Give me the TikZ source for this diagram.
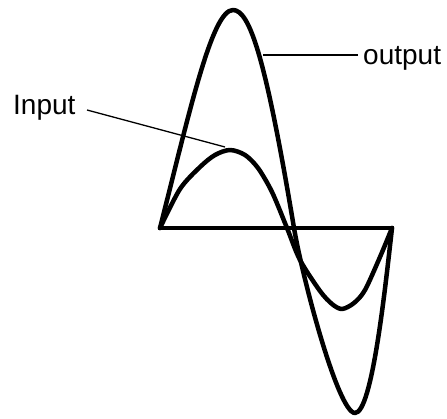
\documentclass[tikz,border=0pt]{standalone}
\usepackage{fontspec}
\setmainfont{Liberation Sans}
\usepackage{tikz}
\usetikzlibrary{positioning,calc}

\begin{document}
\begin{tikzpicture}[
  x=1pt,y=-1pt,
  wave/.style={line width=4.5pt,line join=round,line cap=round},
  axisline/.style={line width=4.5pt},
  leader/.style={line width=1.3pt},
  lbl/.style={inner sep=0pt,anchor=base west,font=\fontsize{28}{30}\selectfont}
]
\useasboundingbox (0,0) rectangle (447,419);
% axis
\coordinate (origin) at (158,228);
\coordinate (axend) at (394,228);
\draw[axisline] (origin) -- (axend);
% output wave (large)
\coordinate (outpeak) at (233,10);
\coordinate (outzero) at (294,228);
\coordinate (outtrough) at (355,413);
\draw[wave] (160,228) .. controls (190,110) and (212,10) .. (outpeak)
  .. controls (250,10) and (266,60) .. (outzero)
  .. controls (302,276) and (338,413) .. (outtrough)
  .. controls (372,413) and (385,290) .. (392,228);
% input wave (small)
\draw[wave] plot[smooth,tension=0.5] coordinates {
  (160,228) (180,189) (200,167) (215,155) (230,150) (245,155) (258,168)
  (272,192) (287,228) (300,260) (320,291) (332,304) (342,309) (354,303)
  (365,290) (380,257) (392,228)};
% labels
\node[lbl] (input) at (13,115) {Input};
\node[lbl] (output) at (363,65) {output};
\coordinate (inlead) at (87,110);
\coordinate (inpeak) at (225,147);
\coordinate (outlead) at (358,55);
\coordinate (outwave) at (263,55);
\draw[leader] (inlead) -- (inpeak);
\draw[leader] (outlead) -- (outwave);
\end{tikzpicture}
\end{document}
